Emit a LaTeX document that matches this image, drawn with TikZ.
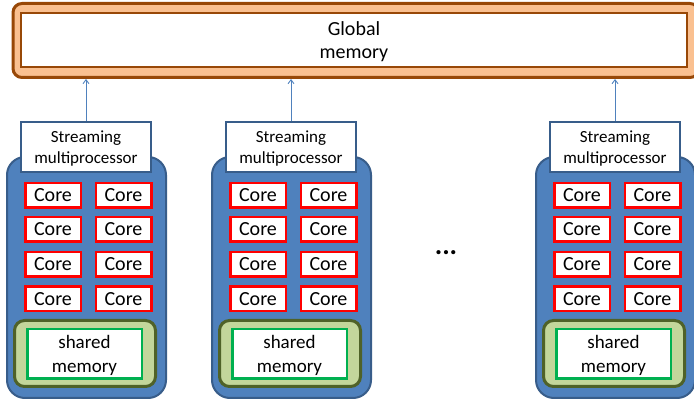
\documentclass[tikz,border=0pt]{standalone}
\usepackage{fontspec}
\setmainfont{Carlito}
\usetikzlibrary{positioning, arrows.meta}
\definecolor{gmfill}{RGB}{250,192,144}
\definecolor{gmline}{RGB}{152,72,7}
\definecolor{smfill}{RGB}{79,129,189}
\definecolor{smline}{RGB}{56,93,138}
\definecolor{shfill}{RGB}{195,214,155}
\definecolor{shline}{RGB}{79,98,40}
\definecolor{shinner}{RGB}{0,176,80}
\tikzset{
  gpu/.style={
	x=1pt, y=-1pt, % one unit is one pixel of the layout
	every node/.style={inner sep=0pt, align=center},
  },
  globalbox/.style={draw=gmline, line width=3pt, fill=gmfill, rounded corners=9pt, minimum width=686pt, minimum height=74pt},
  globalmem/.style={draw=gmline, line width=2pt, fill=white, minimum width=666pt, minimum height=54pt, text depth=0pt, font=\fontsize{20}{23}\selectfont},
  smbody/.style={draw=smline, line width=2pt, fill=smfill, rounded corners=18pt, minimum width=159pt, minimum height=241pt},
  smlabel/.style={draw=smline, line width=2pt, fill=white, minimum width=130pt, minimum height=50pt, text depth=0pt, font=\fontsize{17}{21}\selectfont},
  corebox/.style={draw=red, line width=2.5pt, fill=white, minimum width=55.5pt, minimum height=24.5pt, text depth=-1.5pt, font=\fontsize{20}{20}\selectfont},
  sharedbox/.style={draw=shline, line width=3pt, fill=shfill, rounded corners=10pt, minimum width=141pt, minimum height=66pt},
  sharedmem/.style={draw=shinner, line width=2.5pt, fill=white, minimum width=114.5pt, minimum height=49.5pt, text depth=0pt, font=\fontsize{19}{24}\selectfont},
  link/.style={draw=smfill, line width=0.9pt, -{Straight Barb[length=4pt,width=6pt]}},
}

\begin{document}
\begin{tikzpicture}[gpu]
\useasboundingbox (0,0) rectangle (694,403);
% global memory
\node[globalbox] (gmout) at (356,40.5) {};
\node[globalmem] (gmem) at (354,40) {Global\\memory};

% streaming multiprocessors
\foreach \sm/\dx in {a/0, b/205, c/529} {
  \begin{scope}[xshift=\dx pt]
	\node[smbody] (\sm-body) at (86.5,277.5) {};
	\node[smlabel] (\sm-label) at (86,147) {Streaming\\multiprocessor};
	\foreach \r/\y in {1/195.5, 2/229.5, 3/264.5, 4/299} {
	  \node[corebox] (\sm-core\r l) at (53,\y) {Core};
	  \node[corebox] (\sm-core\r r) at (123.5,\y) {Core};
	}
	\node[sharedbox] (\sm-shout) at (85,353.5) {};
	\node[sharedmem] (\sm-shared) at (84.5,354) {shared\\memory};
  \end{scope}
  \draw[link] (\sm-label.north) -- (\sm-label.north |- gmout.south);
}

\node[font=\fontsize{28}{28}\selectfont\bfseries] (more) at (446,253) {...};
\end{tikzpicture}
\end{document}
